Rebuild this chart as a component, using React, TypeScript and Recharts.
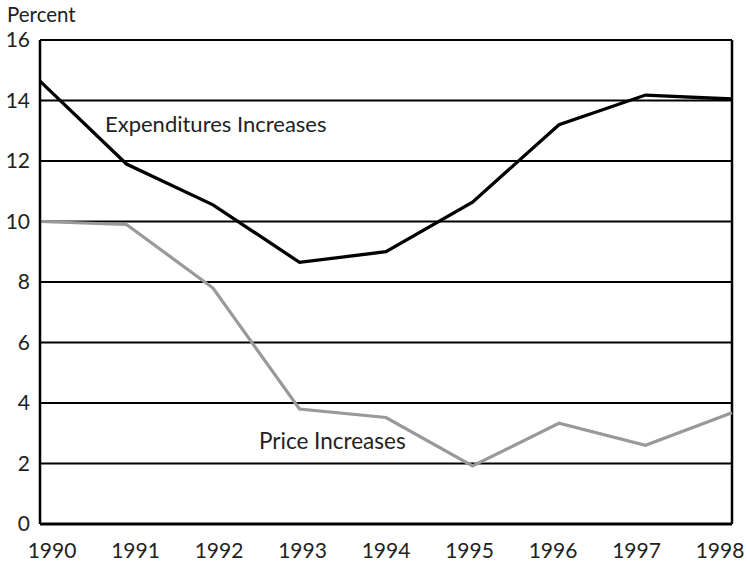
import React from 'react';
import { LineChart, Line, XAxis, YAxis, CartesianGrid, ReferenceLine } from 'recharts';

const years = ['1990', '1991', '1992', '1993', '1994', '1995', '1996', '1997', '1998'];
const expenditures = [14.64, 11.9, 10.55, 8.65, 9.0, 10.64, 13.2, 14.18, 14.05];
const prices = [10.0, 9.9, 7.8, 3.8, 3.52, 1.92, 3.33, 2.6, 3.68];
const yTicks = [0, 2, 4, 6, 8, 10, 12, 14, 16];

const data = years.map((y, i) => ({ year: y, exp: expenditures[i], price: prices[i] }));

const FONT = 'Lato, "Open Sans", sans-serif';
const TEXT = '#222';

const XTick = (props: any) => {
  const { x, y, payload, index } = props;
  return (
    <text x={x + 12 - index * 3} y={y + 34} textAnchor="middle" fontFamily={FONT} fontSize={21} fill={TEXT}>
      {payload.value}
    </text>
  );
};

export default function App() {
  return (
    <div style={{ position: 'absolute', left: 0, top: 0, width: 747, height: 565, background: '#fff' }}>
      <LineChart width={747} height={565} data={data} margin={{ top: 40, right: 15, bottom: 0, left: 0 }}>
        <CartesianGrid vertical={false} stroke="#000" strokeWidth={2} strokeDasharray="" />
        <XAxis
          dataKey="year"
          height={41}
          tickSize={0}
          tickMargin={0}
          tickLine={false}
          axisLine={{ stroke: '#000', strokeWidth: 3 }}
          tick={<XTick />}
          interval={0}
        />
        <YAxis
          width={40}
          domain={[0, 16]}
          ticks={yTicks}
          tickSize={0}
          tickMargin={10}
          tickLine={false}
          axisLine={{ stroke: '#000', strokeWidth: 2.5 }}
          tick={{ fontFamily: FONT, fontSize: 21, fill: TEXT }}
          interval={0}
        />
        <ReferenceLine x={years[years.length - 1]} stroke="#000" strokeWidth={2.5} />
        <Line dataKey="price" stroke="#999999" strokeWidth={3.2} dot={false} isAnimationActive={false} strokeLinejoin="miter" />
        <Line dataKey="exp" stroke="#000" strokeWidth={3.3} dot={false} isAnimationActive={false} strokeLinejoin="miter" />
      </LineChart>
      <svg width={747} height={565} style={{ position: 'absolute', left: 0, top: 0, pointerEvents: 'none' }}>
        <text x={7} y={22} fontFamily={FONT} fontSize={20.5} fill={TEXT}>Percent</text>
        <text x={105} y={132} fontFamily={FONT} fontSize={22} fill={TEXT}>Expenditures Increases</text>
        <text x={259} y={449} fontFamily={FONT} fontSize={22.5} fill={TEXT}>Price Increases</text>
      </svg>
    </div>
  );
}
